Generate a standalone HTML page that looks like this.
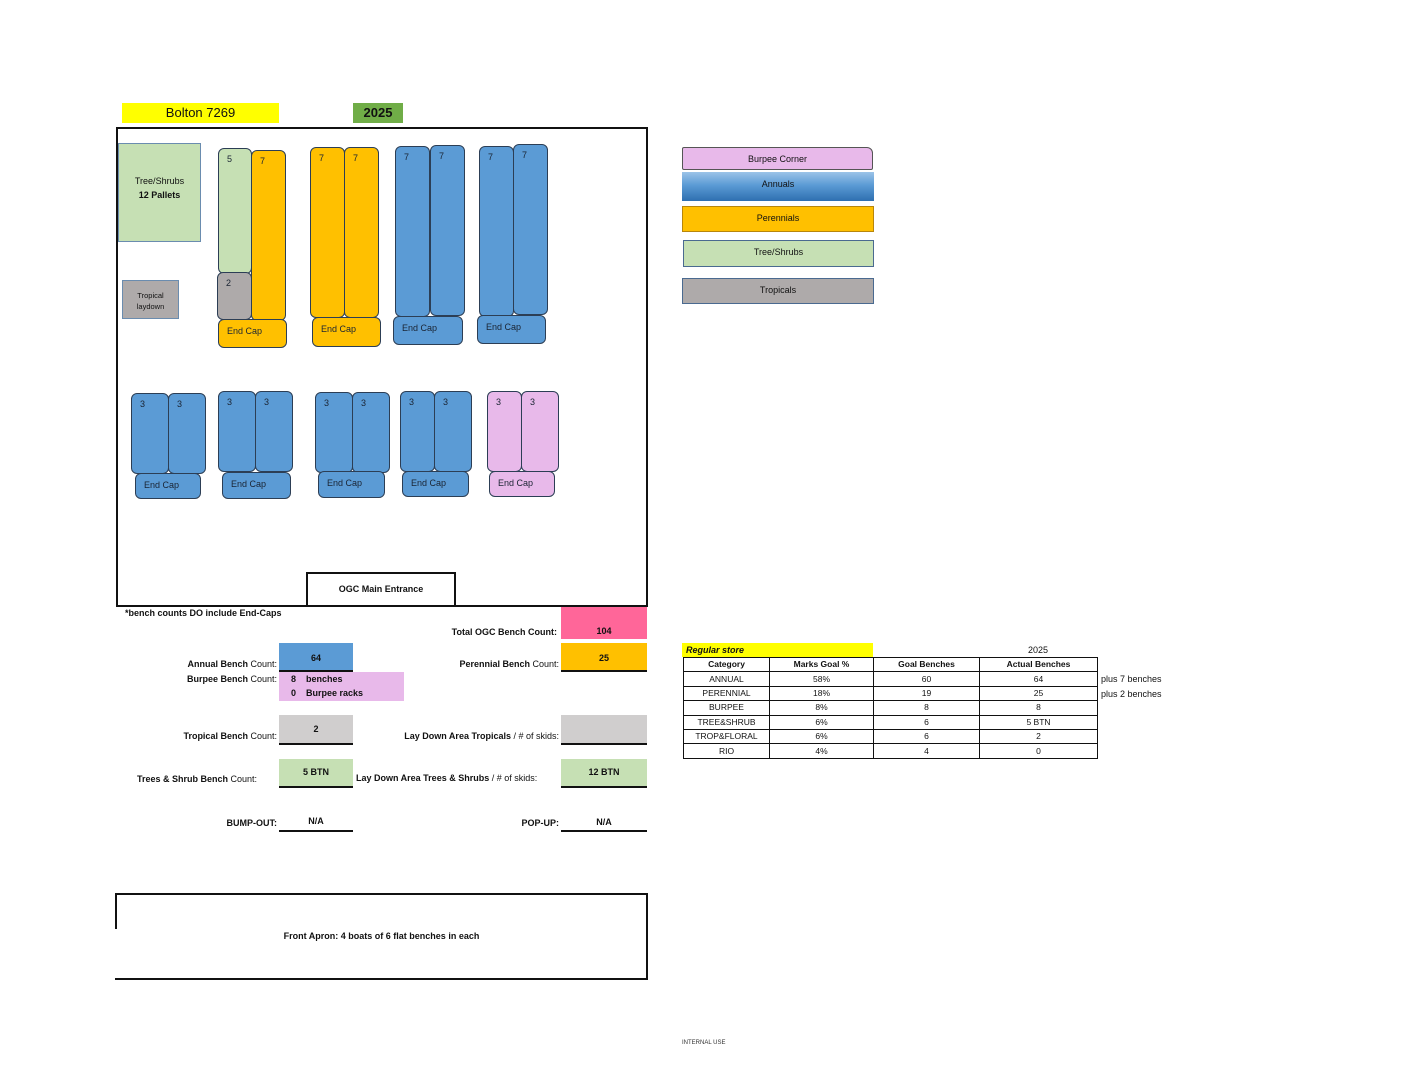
<!DOCTYPE html>
<html><head><meta charset="utf-8">
<style>
*{box-sizing:border-box;margin:0;padding:0}
body{width:1408px;height:1088px;position:relative;background:#fff;font-family:"Liberation Sans",sans-serif;color:#111;overflow:hidden}
div{position:absolute}
.b{border:1.3px solid #2c3e55;border-radius:6px;font-size:9px;padding:5px 0 0 8px;color:#1a2433}
.bl{background:#5b9bd5}
.or{background:#ffc000}
.gr{background:#c6e0b4}
.gy{background:#aeaaaa}
.pk{background:#e8b9ea}
.ec{padding:6px 0 0 8px}
.t{font-size:9px;white-space:nowrap}
.bold{font-weight:bold}
.lg{border:1.5px solid #4a6a90;font-size:9px;text-align:center;line-height:22px}
.fld{border-bottom:2px solid #111;font-size:9px;font-weight:bold;text-align:center}
table{border-collapse:collapse;font-size:8.5px;position:absolute;left:683px;top:657px}
td{border:1px solid #111;text-align:center;height:14.4px;padding:0;line-height:13px}
</style></head><body>

<div style="left:122px;top:103px;width:157px;height:20px;background:#ffff00;font-size:13px;text-align:center;line-height:20px">Bolton 7269</div>
<div style="left:353px;top:103px;width:50px;height:20px;background:#70ad47;font-size:13px;font-weight:bold;text-align:center;line-height:20px">2025</div>

<div style="left:116px;top:127px;width:532px;height:480px;border:2px solid #111"></div>

<div style="left:118px;top:143px;width:83px;height:99px;background:#c6e0b4;border:1.5px solid #6a8caf;font-size:9px;text-align:center;padding-top:30px;line-height:14px">Tree/Shrubs<br><b>12 Pallets</b></div>
<div style="left:122px;top:280px;width:57px;height:39px;background:#aeaaaa;border:1.5px solid #6a8caf;font-size:7.5px;text-align:center;padding-top:9px;line-height:11px">Tropical<br>laydown</div>

<!-- group1 -->
<div class="b gr" style="left:218px;top:148px;width:34px;height:126px">5</div>
<div class="b gy" style="left:217px;top:272px;width:35px;height:48px">2</div>
<div class="b or" style="left:251px;top:150px;width:35px;height:171px">7</div>
<div class="b or ec" style="left:218px;top:319px;width:69px;height:29px">End Cap</div>
<!-- group2 -->
<div class="b or" style="left:310px;top:147px;width:35px;height:171px">7</div>
<div class="b or" style="left:344px;top:147px;width:35px;height:171px">7</div>
<div class="b or ec" style="left:312px;top:317px;width:69px;height:30px">End Cap</div>
<!-- group3 -->
<div class="b bl" style="left:395px;top:146px;width:35px;height:171px">7</div>
<div class="b bl" style="left:430px;top:145px;width:35px;height:171px">7</div>
<div class="b bl ec" style="left:393px;top:316px;width:70px;height:29px">End Cap</div>
<!-- group4 -->
<div class="b bl" style="left:479px;top:146px;width:35px;height:171px">7</div>
<div class="b bl" style="left:513px;top:144px;width:35px;height:171px">7</div>
<div class="b bl ec" style="left:477px;top:315px;width:69px;height:29px">End Cap</div>

<!-- row 2 -->
<div class="b bl" style="left:131px;top:393px;width:38px;height:81px">3</div>
<div class="b bl" style="left:168px;top:393px;width:38px;height:81px">3</div>
<div class="b bl ec" style="left:135px;top:473px;width:66px;height:26px">End Cap</div>

<div class="b bl" style="left:218px;top:391px;width:38px;height:81px">3</div>
<div class="b bl" style="left:255px;top:391px;width:38px;height:81px">3</div>
<div class="b bl ec" style="left:222px;top:472px;width:69px;height:27px">End Cap</div>

<div class="b bl" style="left:315px;top:392px;width:38px;height:81px">3</div>
<div class="b bl" style="left:352px;top:392px;width:38px;height:81px">3</div>
<div class="b bl ec" style="left:318px;top:471px;width:67px;height:27px">End Cap</div>

<div class="b bl" style="left:400px;top:391px;width:35px;height:81px">3</div>
<div class="b bl" style="left:434px;top:391px;width:38px;height:81px">3</div>
<div class="b bl ec" style="left:402px;top:471px;width:67px;height:26px">End Cap</div>

<div class="b pk" style="left:487px;top:391px;width:35px;height:81px">3</div>
<div class="b pk" style="left:521px;top:391px;width:38px;height:81px">3</div>
<div class="b pk ec" style="left:489px;top:471px;width:66px;height:26px">End Cap</div>

<div style="left:306px;top:572px;width:150px;height:35px;border:2px solid #111;font-size:9px;font-weight:bold;text-align:center;line-height:31px">OGC Main Entrance</div>

<!-- legend -->
<div class="lg" style="left:682px;top:147px;width:191px;height:23px;background:#e8b9ea;border-color:#555;border-radius:2px 6px 2px 2px">Burpee Corner</div>
<div class="lg" style="left:682px;top:172px;width:192px;height:29px;border:none;line-height:24px;background:linear-gradient(#9cc3e8,#5b9bd5 45%,#2e6fb0)">Annuals</div>
<div class="lg" style="left:682px;top:206px;width:192px;height:26px;background:#ffc000;border-color:#b8860b">Perennials</div>
<div class="lg" style="left:683px;top:240px;width:191px;height:27px;background:#c6e0b4">Tree/Shrubs</div>
<div class="lg" style="left:682px;top:278px;width:192px;height:26px;background:#aeaaaa">Tropicals</div>

<!-- counts -->
<div class="t bold" style="left:125px;top:608px">*bench counts DO include End-Caps</div>
<div class="t bold" style="left:420px;top:627px;width:137px;text-align:right">Total OGC Bench Count:</div>
<div class="fld" style="left:561px;top:607px;width:86px;height:32px;background:#ff6699;border:none;padding-top:19px">104</div>

<div class="t" style="left:140px;top:659px;width:137px;text-align:right"><b>Annual Bench</b> Count:</div>
<div class="fld" style="left:279px;top:643px;width:74px;height:29px;background:#5b9bd5;padding-top:10px">64</div>
<div class="t" style="left:400px;top:659px;width:159px;text-align:right"><b>Perennial Bench</b> Count:</div>
<div class="fld" style="left:561px;top:643px;width:86px;height:29px;background:#ffc000;padding-top:10px">25</div>

<div class="t" style="left:140px;top:674px;width:137px;text-align:right"><b>Burpee Bench</b> Count:</div>
<div style="left:279px;top:672px;width:125px;height:29px;background:#e8b9ea;font-size:9px;font-weight:bold;line-height:14px;padding-left:12px">8&nbsp;&nbsp;&nbsp;&nbsp;benches<br>0&nbsp;&nbsp;&nbsp;&nbsp;Burpee racks</div>

<div class="t" style="left:140px;top:731px;width:137px;text-align:right"><b>Tropical Bench</b> Count:</div>
<div class="fld" style="left:279px;top:715px;width:74px;height:30px;background:#d0cece;padding-top:9px">2</div>
<div class="t" style="left:380px;top:731px;width:179px;text-align:right"><b>Lay Down Area Tropicals</b> / # of skids:</div>
<div class="fld" style="left:561px;top:715px;width:86px;height:30px;background:#d0cece"></div>

<div class="t" style="left:137px;top:774px"><b>Trees &amp; Shrub Bench</b> Count:</div>
<div class="fld" style="left:279px;top:759px;width:74px;height:29px;background:#c6e0b4;padding-top:8px">5 BTN</div>
<div class="t" style="left:356px;top:773px"><b>Lay Down Area Trees &amp; Shrubs</b> / # of skids:</div>
<div class="fld" style="left:561px;top:759px;width:86px;height:29px;background:#c6e0b4;padding-top:8px">12 BTN</div>

<div class="t bold" style="left:200px;top:818px;width:77px;text-align:right">BUMP-OUT:</div>
<div class="fld" style="left:279px;top:816px;width:74px;height:16px">N/A</div>
<div class="t bold" style="left:480px;top:818px;width:79px;text-align:right">POP-UP:</div>
<div class="fld" style="left:561px;top:817px;width:86px;height:15px">N/A</div>

<div style="left:115px;top:893px;width:533px;height:87px;border-top:2px solid #111;border-right:2px solid #111;border-bottom:2px solid #111"></div>
<div style="left:115px;top:893px;width:2px;height:36px;background:#111"></div>
<div class="t bold" style="left:115px;top:931px;width:533px;text-align:center">Front Apron: 4 boats of 6 flat benches in each</div>

<!-- table -->
<div style="left:682px;top:643px;width:191px;height:14px;background:#ffff00;font-size:9px;font-weight:bold;font-style:italic;padding-left:4px;line-height:15px">Regular store</div>
<div class="t" style="left:979px;top:645px;width:118px;text-align:center">2025</div>
<table>
<tr style="font-weight:bold"><td style="width:86px">Category</td><td style="width:104px">Marks Goal %</td><td style="width:106px">Goal Benches</td><td style="width:118px">Actual Benches</td></tr>
<tr><td>ANNUAL</td><td>58%</td><td>60</td><td>64</td></tr>
<tr><td>PERENNIAL</td><td>18%</td><td>19</td><td>25</td></tr>
<tr><td>BURPEE</td><td>8%</td><td>8</td><td>8</td></tr>
<tr><td>TREE&amp;SHRUB</td><td>6%</td><td>6</td><td>5 BTN</td></tr>
<tr><td>TROP&amp;FLORAL</td><td>6%</td><td>6</td><td>2</td></tr>
<tr><td>RIO</td><td>4%</td><td>4</td><td>0</td></tr>
</table>
<div class="t" style="left:1101px;top:674px">plus 7 benches</div>
<div class="t" style="left:1101px;top:689px">plus 2 benches</div>

<div style="left:682px;top:1040px;font-size:6px;color:#333">INTERNAL USE</div>
</body></html>
